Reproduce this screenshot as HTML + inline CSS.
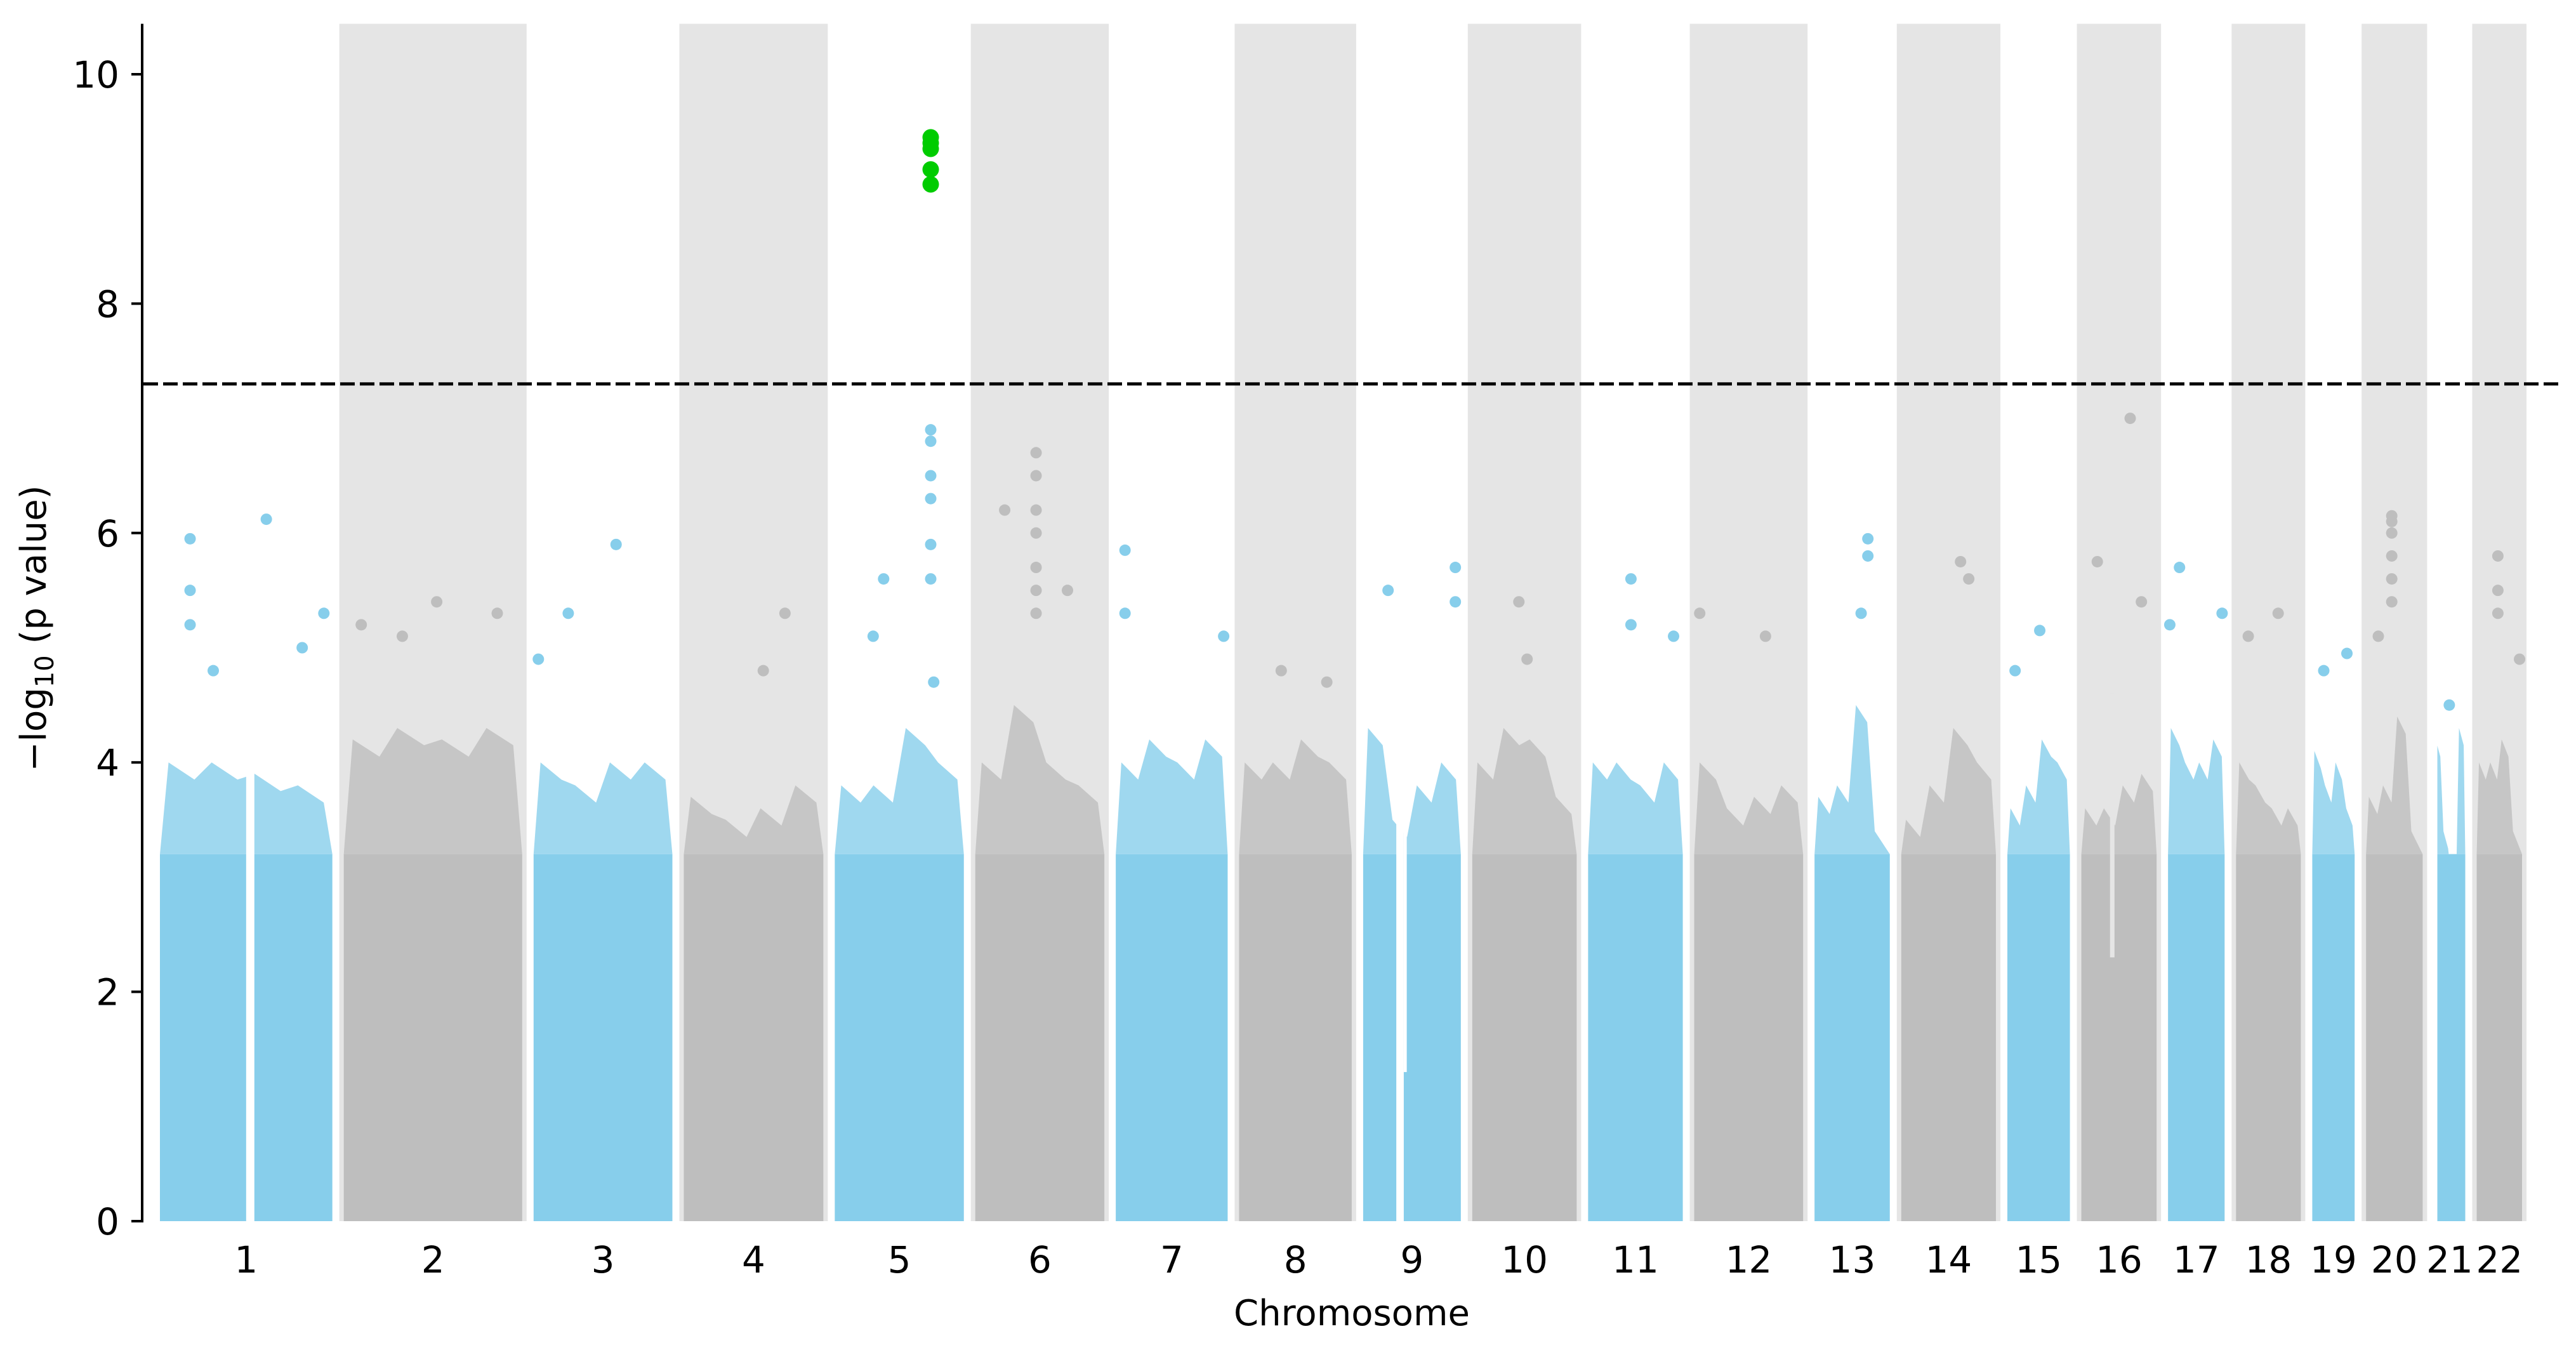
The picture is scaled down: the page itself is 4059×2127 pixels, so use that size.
<!DOCTYPE html>
<html><head><meta charset="utf-8"><style>
html,body{margin:0;padding:0;background:#fff}
svg{display:block}
text{font-family:"DejaVu Sans","Liberation Sans",sans-serif;fill:#000}
</style></head><body>
<svg id="chart" xmlns="http://www.w3.org/2000/svg" width="4059" height="2127" viewBox="0 0 4059 2127">
<g id="bands"></g>
<g id="bodies"></g>
<g id="hits"></g>
<g id="axes"></g>
</svg>
<script>
// ---- data ----
const chromosomes = ["1","2","3","4","5","6","7","8","9","10","11","12","13","14","15","16","17","18","19","20","21","22"];
const chromLengths = [246,254,201,202,188,188,165,166,146,155,142,161,116,142,99,116,91,102,72,91,57,76];
const bodyTop = 3.2;
const speckleMax = [
 [4.0,4.0,3.9,3.8],[4.2,4.3,4.2,4.3],[4.0,3.8,4.0,4.0],[3.7,3.5,3.6,3.8],[3.8,3.8,4.3,4.0],
 [4.0,4.5,4.0,3.8],[4.0,4.2,4.0,4.2],[4.0,4.0,4.2,4.0],[4.3,3.5,3.8,4.0],[4.0,4.3,4.2,3.7],
 [4.0,4.0,3.8,4.0],[4.0,3.6,3.7,3.8],[3.7,3.8,4.5,3.4],[3.5,3.8,4.3,4.0],[3.6,3.8,4.2,4.0],
 [3.6,3.6,3.8,3.9],[4.3,4.0,4.0,4.2],[4.0,3.8,3.6,3.6],[4.1,3.8,4.0,3.6],[3.7,3.8,4.4,3.4],
 [4.2,3.4,3.0,4.3],[4.0,4.0,4.2,3.4]
];
// gaps with no SNPs: [chromIndex, from, to]
const gapRegions = [[0,123,134],[8,52,62],[20,0,12]];
// low-density regions: [chromIndex, from, to, maxValue]
const dipRegions = [[15,46,52,2.3],[14,0,6,1.0],[8,62,66,1.3]];
// notable SNPs: chromIndex, position, value
const hitChrom = [0,0,0,0,0,0,0,1,1,1,1,2,2,2,3,3,4,4,4,4,4,4,4,4,4,5,5,5,5,5,5,5,5,5,6,6,6,7,7,8,8,8,9,9,10,10,10,11,11,12,12,12,13,13,14,14,15,15,15,16,16,16,17,17,18,18,19,19,19,19,19,19,19,20,21,21,21,21];
const hitPos   = [48,48,48,79,150,198,227,31,86,132,213,118,54,14,143,114,136,136,136,136,136,136,73,59,140,47,89,89,89,89,89,89,89,131,20,20,152,64,125,41,131,131,70,81,65,65,122,15,103,79,79,70,87,98,51,18,73,29,88,23,10,80,64,24,54,23,42,42,42,42,42,42,24,28,36,36,36,65];
const hitVal   = [5.95,5.5,5.2,4.8,6.12,5.0,5.3,5.2,5.1,5.4,5.3,5.9,5.3,4.9,5.3,4.8,6.9,6.8,6.5,6.3,5.9,5.6,5.6,5.1,4.7,6.2,6.7,6.5,6.2,6.0,5.7,5.5,5.3,5.5,5.85,5.3,5.1,4.8,4.7,5.5,5.7,5.4,5.4,4.9,5.6,5.2,5.1,5.3,5.1,5.95,5.8,5.3,5.75,5.6,5.15,4.8,7.0,5.75,5.4,5.7,5.2,5.3,5.3,5.1,4.95,4.8,6.15,6.1,6.0,5.8,5.6,5.4,5.1,4.5,5.8,5.5,5.3,4.9];
// genome-wide significant SNPs (chr5)
const sigChrom = [4,4,4,4,4];
const sigPos = [136,136,136,136,136];
const sigVal = [9.45,9.4,9.35,9.17,9.04];
const threshold = 7.3;
const yTicks = [0,2,4,6,8,10];
const yMax = 10.44;

// ---- scales ----
const NS="http://www.w3.org/2000/svg";
const X0=243, X1=3983, Y0=1924, PX_PER_UNIT=180.7;
const total = chromLengths.reduce((a,b)=>a+b,0);
const cum=[]; {let c=0; for(const l of chromLengths){cum.push(c); c+=l;}}
function xScale(ci,pos){ return X0 + (cum[ci]+pos)/total*(X1-X0); }
function yScale(v){ return Y0 - v*PX_PER_UNIT; }
function mk(tag,attrs,parent){const e=document.createElementNS(NS,tag); for(const k in attrs) e.setAttribute(k,attrs[k]); parent.appendChild(e); return e;}
const colors=["#87ceeb","#bebebe"];
const gB=document.getElementById('bands'), gD=document.getElementById('bodies'), gH=document.getElementById('hits'), gA=document.getElementById('axes');
const yTop=yScale(yMax);

chromosomes.forEach((c,i)=>{
  const xs=xScale(i,0), xe=xScale(i,chromLengths[i]);
  if(i%2===1){
    const b=mk('rect',{x:xs+2,y:yTop,width:xe-xs-4,height:Y0-yTop,fill:'#e5e5e5'},gB);
    
    
  }
  const col=colors[i%2];
  const ps=xs+9, pe=xe-9;
  const q=speckleMax[i];
  let pts=[[ps,yScale(bodyTop)]];
  q.forEach((v,k)=>{const a=ps+(pe-ps)*k/q.length, b2=ps+(pe-ps)*(k+1)/q.length; pts.push([a+(b2-a)*0.2,yScale(v)]); pts.push([a+(b2-a)*0.8,yScale(v-0.15)]);});
  pts.push([pe,yScale(bodyTop)]);
  const sp=mk('polygon',{points:pts.map(p=>p.join(',')).join(' '),fill:col,opacity:0.8},gD);
  
  
  const body=mk('rect',{x:ps,y:yScale(bodyTop),width:pe-ps,height:Y0-yScale(bodyTop),fill:col},gD);
  
  
  const lab=mk('text',{x:(xs+xe)/2,y:2005,'text-anchor':'middle','font-size':58},gA);
  lab.textContent=c;
  
  
});
gapRegions.forEach(g=>{
  const r=mk('rect',{x:xScale(g[0],g[1]),y:yTop,width:xScale(g[0],g[2])-xScale(g[0],g[1]),height:Y0-yTop+2,fill:'#fff'},gD);
  
  
});
dipRegions.forEach(d=>{
  const r=mk('rect',{x:xScale(d[0],d[1]),y:yScale(4.6),width:xScale(d[0],d[2])-xScale(d[0],d[1]),height:yScale(d[3])-yScale(4.6),fill:(d[0]%2===1?'#e5e5e5':'#fff')},gD);
  
  
});
hitVal.forEach((v,k)=>{
  const ci=hitChrom[k];
  const p=mk('circle',{cx:xScale(ci,hitPos[k]),cy:yScale(v),r:9,fill:colors[ci%2]},gH);
  
  
});
sigVal.forEach((v,k)=>{
  const p=mk('circle',{cx:xScale(sigChrom[k],sigPos[k]),cy:yScale(v),r:13,fill:'#00cc00'},gH);
  
  
});
const th=mk('line',{x1:226,x2:4038,y1:yScale(threshold),y2:yScale(threshold),stroke:'#000','stroke-width':5,'stroke-dasharray':'23 8'},gA);


const sp=mk('line',{x1:224,x2:224,y1:yTop,y2:Y0+2,stroke:'#000','stroke-width':4},gA);


yTicks.forEach(t=>{
  const tk=mk('line',{x1:207,x2:224,y1:yScale(t),y2:yScale(t),stroke:'#000','stroke-width':4},gA);
  
  
  const tl=mk('text',{x:188,y:yScale(t)+21,'text-anchor':'end','font-size':58},gA);
  tl.textContent=t;
  
  
});
</script>
<svg style="position:absolute;left:0;top:0" width="4059" height="2127">
<text x="2130" y="2088" text-anchor="middle" font-size="56" style="font-family:'DejaVu Sans','Liberation Sans',sans-serif">Chromosome</text>
<text transform="translate(72,990) rotate(-90)" text-anchor="middle" font-size="56" style="font-family:'DejaVu Sans','Liberation Sans',sans-serif">−log<tspan font-size="40" dy="12">10</tspan><tspan dy="-12"> (p value)</tspan></text>
</svg>
</body></html>
